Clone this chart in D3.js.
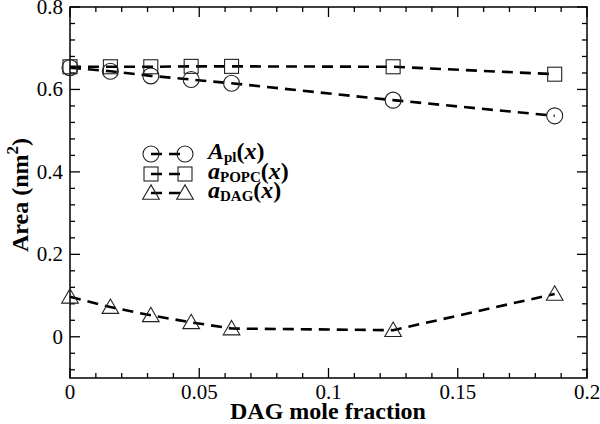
<!DOCTYPE html>
<html><head><meta charset="utf-8">
<script src="https://cdn.jsdelivr.net/npm/d3@7"></script>
<style>body{margin:0;background:#fff}svg{display:block}</style>
</head><body><svg id="c" width="600" height="424" font-family="'Liberation Serif', 'Times New Roman', Times, 'DejaVu Serif', serif"></svg>
<script>
const xValues = [0, 0.015625, 0.03125, 0.046875, 0.0625, 0.125, 0.1875];
const aplValues = [0.653, 0.644, 0.633, 0.624, 0.615, 0.574, 0.536];
const apopcValues = [0.655, 0.655, 0.655, 0.656, 0.656, 0.655, 0.637];
const adagValues = [0.097, 0.072, 0.052, 0.035, 0.020, 0.016, 0.104];
const xTicks = [0, 0.05, 0.1, 0.15, 0.2];
const xTickLabels = ["0", "0.05", "0.1", "0.15", "0.2"];
const yTicks = [0, 0.2, 0.4, 0.6, 0.8];
const yTickLabels = ["0", "0.2", "0.4", "0.6", "0.8"];
const seriesNames = ["apl", "apopc", "adag"];

const svg = d3.select("#c");
const L = 70, R = 587, T = 7, B = 378;
const x = d3.scaleLinear().domain([0, 0.2]).range([L, R]);
const y = d3.scaleLinear().domain([-0.1, 0.8]).range([B, T]);

svg.append("rect").attr("x", L).attr("y", T).attr("width", R - L).attr("height", B - T)
  .attr("fill", "none").attr("stroke", "#000").attr("stroke-width", 1.5);

const xMinor = d3.range(0, 0.2001, 0.01);
const yMinor = d3.range(-0.08, 0.8001, 0.04);
const ax = svg.append("g").attr("stroke", "#000").attr("stroke-width", 1.3);
function isMajor(v, arr){ return arr.some(t => Math.abs(t - v) < 1e-6); }
xMinor.forEach(v => {
  const len = isMajor(v, xTicks) ? 10 : 5;
  ax.append("line").attr("x1", x(v)).attr("x2", x(v)).attr("y1", B).attr("y2", B - len);
  ax.append("line").attr("x1", x(v)).attr("x2", x(v)).attr("y1", T).attr("y2", T + len);
});
yMinor.forEach(v => {
  const len = isMajor(v, yTicks) ? 10 : 5;
  ax.append("line").attr("x1", L).attr("x2", L + len).attr("y1", y(v)).attr("y2", y(v));
  ax.append("line").attr("x1", R).attr("x2", R - len).attr("y1", y(v)).attr("y2", y(v));
});

xTicks.forEach((v, i) => {
  svg.append("text").attr("x", x(v)).attr("y", 399).attr("text-anchor", "middle")
    .attr("font-size", 21).text(xTickLabels[i]);
});
yTicks.forEach((v, i) => {
  svg.append("text").attr("x", 63).attr("y", y(v) + 7).attr("text-anchor", "end")
    .attr("font-size", 21).text(yTickLabels[i]);
});

svg.append("text").attr("x", 328).attr("y", 419).attr("text-anchor", "middle")
  .attr("font-size", 24).attr("font-weight", "bold").text("DAG mole fraction");
const yt = svg.append("text").attr("transform", "translate(28,195) rotate(-90)")
  .attr("text-anchor", "middle").attr("font-size", 24).attr("font-weight", "bold");
yt.append("tspan").text("Area (nm");
yt.append("tspan").attr("dy", -10).attr("font-size", 17).text("2");
yt.append("tspan").attr("dy", 10).text(")");

const series = {apl: aplValues, apopc: apopcValues, adag: adagValues};
const line = d3.line().x(d => x(d[0])).y(d => y(d[1]));
const dash = "11,7";

function marker(g, name, cx, cy) {
  const m = g.append("g").attr("fill", "none").attr("stroke", "#222").attr("stroke-width", 1.1);
  if (name === "apl") m.append("circle").attr("cx", cx).attr("cy", cy).attr("r", 8);
  else if (name === "apopc") m.append("rect").attr("x", cx - 7).attr("y", cy - 7).attr("width", 14).attr("height", 14);
  else m.append("path").attr("d", d3.symbol().type(d3.symbolTriangle).size(120)()).attr("transform", `translate(${cx},${cy + 1.5})`);
}

seriesNames.forEach(name => {
  const pts = xValues.map((v, i) => [v, series[name][i]]);
  svg.append("path").attr("d", line(pts)).attr("fill", "none").attr("stroke", "#000")
    .attr("stroke-width", 2.6).attr("stroke-dasharray", dash);
  const g = svg.append("g");
  pts.forEach(p => marker(g, name, x(p[0]), y(p[1])));
});

const legY = [154, 174, 193];
seriesNames.forEach((name, i) => {
  const g = svg.append("g");
  g.append("line").attr("x1", 151).attr("x2", 185).attr("y1", legY[i]).attr("y2", legY[i])
    .attr("stroke", "#000").attr("stroke-width", 2.6).attr("stroke-dasharray", dash);
  marker(g, name, 151, legY[i]);
  marker(g, name, 185, legY[i]);
  const t = g.append("text").attr("x", 208).attr("y", legY[i] + 5).attr("font-size", 24).attr("font-weight", "bold");
  if (name === "apl") {
    t.append("tspan").attr("font-style", "italic").text("A");
    t.append("tspan").attr("font-size", 15).attr("dy", 3).text("pl");
  } else {
    t.append("tspan").attr("font-style", "italic").text("a");
    t.append("tspan").attr("font-size", 15).attr("dy", 3).text(name === "apopc" ? "POPC" : "DAG");
  }
  t.append("tspan").attr("dy", -3).text("(");
  t.append("tspan").attr("font-style", "italic").text("x");
  t.append("tspan").text(")");
});
</script></body></html>
